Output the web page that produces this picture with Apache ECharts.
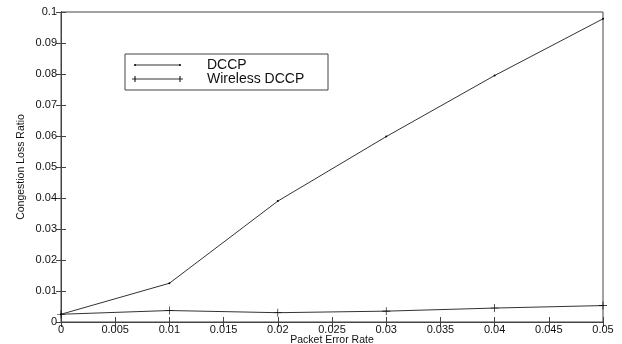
<!DOCTYPE html>
<html>
<head>
<meta charset="utf-8">
<script src="https://cdn.jsdelivr.net/npm/echarts@6/dist/echarts.min.js"></script>
<style>html,body{margin:0;padding:0;background:#fff}#c{width:622px;height:344px}</style>
</head>
<body>
<div id="c"></div>
<script>
const packetErrorRate = [0, 0.01, 0.02, 0.03, 0.04, 0.05];
const dccp = [0.0025, 0.0125, 0.039, 0.0598, 0.0795, 0.0978];
const wirelessDccp = [0.0025, 0.0037, 0.003, 0.0035, 0.0045, 0.0053];
const seriesNames = ['DCCP', 'Wireless DCCP'];
const xTitle = 'Packet Error Rate';
const yTitle = 'Congestion Loss Ratio';

const FONT = '"Liberation Sans", Arial, sans-serif';
const LC = '#333';
const plus = 'path://M0,4.6H10V5.4H0Z M4.6,0H5.4V10H4.6Z';

const chart = echarts.init(document.getElementById('c'));
const tick = { show: true, inside: true, length: 5, lineStyle: { color: '#444', width: 1 } };
chart.setOption({
  animation: false,
  backgroundColor: '#fff',
  grid: { left: 61, right: 19, top: 12, bottom: 22, show: true, borderColor: '#444', borderWidth: 1,
          containLabel: false, outerBoundsMode: 'none' },
  xAxis: [
    { type: 'value', min: 0, max: 0.05, interval: 0.005,
      name: xTitle, nameLocation: 'middle', nameGap: 13, nameMoveOverlap: false,
      nameTextStyle: { fontFamily: FONT, fontSize: 10.5, color: '#111' },
      axisLine: { show: true, lineStyle: { color: '#444' } }, axisTick: tick,
      axisLabel: { fontFamily: FONT, fontSize: 11, color: '#111', margin: 2 },
      splitLine: { show: false } },
    { type: 'value', position: 'top', min: 0, max: 0.05, interval: 0.005,
      axisLine: { show: true, lineStyle: { color: '#444' } }, axisTick: tick,
      axisLabel: { show: false }, splitLine: { show: false } }
  ],
  yAxis: [
    { type: 'value', min: 0, max: 0.1, interval: 0.01,
      name: yTitle, nameLocation: 'middle', nameGap: 34, nameRotate: 90, nameMoveOverlap: false,
      nameTextStyle: { fontFamily: FONT, fontSize: 10.5, color: '#111' },
      axisLine: { show: true, lineStyle: { color: '#444' } }, axisTick: tick,
      axisLabel: { fontFamily: FONT, fontSize: 11, color: '#111', margin: 4 },
      splitLine: { show: false } },
    { type: 'value', position: 'right', min: 0, max: 0.1, interval: 0.01,
      axisLine: { show: true, lineStyle: { color: '#444' } }, axisTick: tick,
      axisLabel: { show: false }, splitLine: { show: false } }
  ],
  series: [
    { name: seriesNames[0], type: 'line', data: packetErrorRate.map((x, i) => [x, dccp[i]]),
      symbol: 'circle', symbolSize: 2, showSymbol: true,
      lineStyle: { color: LC, width: 1 }, itemStyle: { color: '#000' } },
    { name: seriesNames[1], type: 'line', data: packetErrorRate.map((x, i) => [x, wirelessDccp[i]]),
      symbol: plus, symbolSize: 8, showSymbol: true,
      lineStyle: { color: LC, width: 1 }, itemStyle: { color: '#000' } }
  ],
  graphic: [
    { type: 'rect', shape: { x: 125, y: 54, width: 203, height: 36 },
      style: { fill: '#fff', stroke: '#444', lineWidth: 1 } },
    { type: 'line', shape: { x1: 135, y1: 65, x2: 180, y2: 65 }, style: { stroke: LC, lineWidth: 1 } },
    { type: 'circle', shape: { cx: 135, cy: 65, r: 1 }, style: { fill: '#000' } },
    { type: 'circle', shape: { cx: 180, cy: 65, r: 1 }, style: { fill: '#000' } },
    { type: 'line', shape: { x1: 132, y1: 79, x2: 183, y2: 79 }, style: { stroke: LC, lineWidth: 1 } },
    { type: 'line', shape: { x1: 135, y1: 76, x2: 135, y2: 82 }, style: { stroke: '#000', lineWidth: 1 } },
    { type: 'line', shape: { x1: 180, y1: 76, x2: 180, y2: 82 }, style: { stroke: '#000', lineWidth: 1 } },
    { type: 'text', left: 207, top: 58, style: { text: seriesNames[0], font: '14px ' + FONT, fill: '#111' } },
    { type: 'text', left: 207, top: 72, style: { text: seriesNames[1], font: '14px ' + FONT, fill: '#111' } }
  ]
});
</script>
</body>
</html>
